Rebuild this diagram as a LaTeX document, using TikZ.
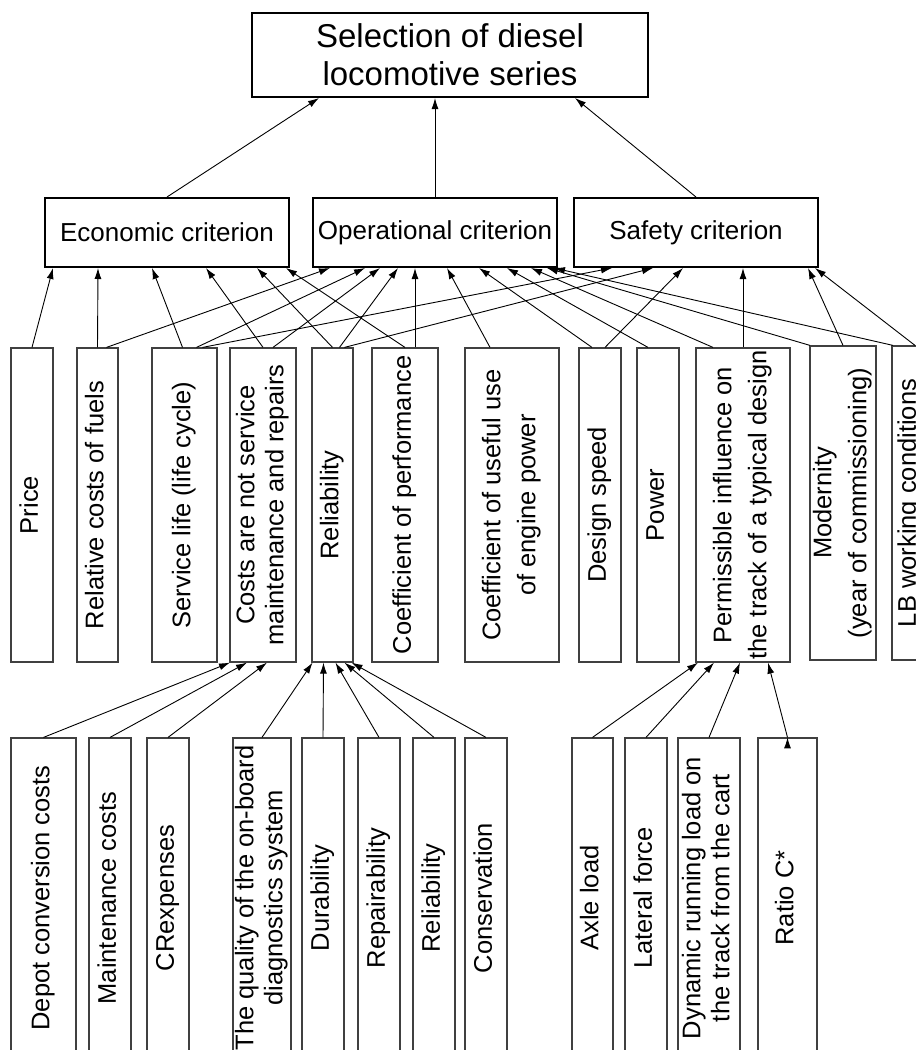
\documentclass[tikz,border=0pt]{standalone}
\usepackage{fontspec}
\setmainfont{Liberation Sans}
\usepackage{graphicx}
\usetikzlibrary{arrows.meta, positioning}

\newcommand{\vtext}[1]{\rotatebox{90}{\begin{tabular}{@{}c@{}}#1\end{tabular}}}

\begin{document}
\begin{tikzpicture}[x=1pt, y=-1pt,
    goal/.style={draw, line width=2pt, inner sep=0pt, align=center, font=\fontsize{33}{38}\selectfont},
    crit/.style={draw, line width=2pt, inner sep=0pt, minimum width=244pt, minimum height=69pt, font=\fontsize{26}{30}\selectfont},
    factor/.style={draw=black!75, line width=1.2pt, inner sep=0pt, minimum height=314pt, font=\fontsize{25.5}{29}\selectfont},
    subfactor/.style={factor, minimum height=320pt},
    link/.style={-{Latex[length=11pt, width=7pt]}, line width=0.9pt}]
        \useasboundingbox (0,0) rectangle (916,1050);
        \fill[white] (0,0) rectangle (916,1050);

        \node[goal, minimum width=396pt, minimum height=84pt] (goal) at (450,55) {Selection of diesel\\locomotive series};

        \node[crit] (econ) at (167,232.5) {Economic criterion};
        \node[crit] (oper) at (435,232.5) {Operational criterion};
        \node[crit] (safe) at (696,232.5) {Safety criterion};

        \node[factor, minimum width=42pt] (price)    at (32,505)    {\vtext{Price}};
        \node[factor, minimum width=41pt] (relcost)  at (97.5,505)  {\vtext{Relative costs of fuels}};
        \node[factor, minimum width=65pt] (service)  at (184.5,505) {\vtext{Service life (life cycle)}};
        \node[factor, minimum width=66pt] (costs)    at (263,505)   {\vtext{Costs are not service\\maintenance and repairs}};
        \node[factor, minimum width=41pt] (reliab)   at (332.5,505) {\vtext{Reliability}};
        \node[factor, minimum width=66pt] (coefperf) at (405,505)   {\vtext{Coefficient of performance}};
        \node[factor, minimum width=94pt] (coefuse)  at (512,505)   {\vtext{Coefficient of useful use\\[6pt]of engine power}};
        \node[factor, minimum width=42pt] (dspeed)   at (600,505)   {\vtext{Design speed}};
        \node[factor, minimum width=42pt] (power)    at (658,505)   {\vtext{Power}};
        \node[factor, minimum width=94pt] (permis)   at (743,505)   {\vtext{Permissible influence on\\[6pt]the track of a typical design}};
        \node[factor, minimum width=66pt] (modern)   at (843,503)   {\vtext{Modernity\\[6pt](year of commissioning)}};
        \node[factor, minimum width=36pt] (lbwork)   at (910,503)   {\vtext{LB working conditions}};

        \node[subfactor, minimum width=65pt] (depot)   at (43.5,898) {\vtext{Depot conversion costs}};
        \node[subfactor, minimum width=42pt] (maint)   at (110,898)  {\vtext{Maintenance costs}};
        \node[subfactor, minimum width=42pt] (crexp)   at (168,898)  {\vtext{CRexpenses}};
        \node[subfactor, minimum width=58pt] (quality) at (262,898)  {\vtext{The quality of the on-board\\diagnostics system}};
        \node[subfactor, minimum width=42pt] (durab)   at (323,898)  {\vtext{Durability}};
        \node[subfactor, minimum width=42pt] (repair)  at (379,898)  {\vtext{Repairability}};
        \node[subfactor, minimum width=42pt] (relsub)  at (434,898)  {\vtext{Reliability}};
        \node[subfactor, minimum width=42pt] (conserv) at (486,898)  {\vtext{Conservation}};
        \node[subfactor, minimum width=41pt] (axle)    at (592.5,898) {\vtext{Axle load}};
        \node[subfactor, minimum width=42pt] (lateral) at (646,898)  {\vtext{Lateral force}};
        \node[subfactor, minimum width=62pt] (dynamic) at (709,898)  {\vtext{Dynamic running load on\\the track from the cart}};
        \node[subfactor, minimum width=59pt] (ratio)   at (787.5,898) {\vtext{Ratio C*}};

        \draw[link]
            (econ.north) edge ([xshift=-131pt]goal.south)
            (oper.north) edge ([xshift=-15pt]goal.south)
            (safe.north) edge ([xshift=125pt]goal.south)
            (price.north) edge ([xshift=-114pt]econ.south)
            (relcost.north) edge ([xshift=-69pt]econ.south)
            ([xshift=9pt]relcost.north) edge ([xshift=-105pt]oper.south)
            ([xshift=-2pt]service.north) edge ([xshift=-15pt]econ.south)
            ([xshift=12pt]service.north) edge ([xshift=-70pt]oper.south)
            ([xshift=18pt]service.north) edge ([xshift=-84pt]safe.south)
            (costs.north) edge ([xshift=39pt]econ.south)
            ([xshift=10pt]costs.north) edge ([xshift=-55pt]oper.south)
            (reliab.north) edge ([xshift=90pt]econ.south)
            ([xshift=7pt]reliab.north) edge ([xshift=-37pt]oper.south)
            ([xshift=12pt]reliab.north) edge ([xshift=-43pt]safe.south)
            (coefperf.north) edge ([xshift=119pt]econ.south)
            ([xshift=10pt]coefperf.north) edge ([xshift=-20pt]oper.south)
            ([xshift=-22pt]coefuse.north) edge ([xshift=12pt]oper.south)
            ([xshift=-8pt]dspeed.north) edge ([xshift=44pt]oper.south)
            ([xshift=5pt]dspeed.north) edge ([xshift=-13pt]safe.south)
            ([xshift=-10pt]power.north) edge ([xshift=72pt]oper.south)
            ([xshift=-30pt]permis.north) edge ([xshift=96pt]oper.south)
            (permis.north) edge ([xshift=47pt]safe.south)
            ([xshift=-33pt]modern.north) edge ([xshift=112pt]oper.south)
            (modern.north) edge ([xshift=112pt]safe.south)
            ([xshift=-17pt]lbwork.north) edge ([xshift=119pt]oper.south)
            ([xshift=5pt]lbwork.north) edge ([xshift=119pt]safe.south)
            (depot.north) edge ([xshift=-33pt]costs.south)
            (maint.north) edge ([xshift=-16pt]costs.south)
            (crexp.north) edge ([xshift=4pt]costs.south)
            (quality.north) edge ([xshift=-20pt]reliab.south)
            (durab.north) edge ([xshift=-9pt]reliab.south)
            (repair.north) edge ([xshift=3pt]reliab.south)
            (relsub.north) edge ([xshift=12pt]reliab.south)
            (conserv.north) edge ([xshift=19pt]reliab.south)
            (axle.north) edge ([xshift=-45pt]permis.south)
            (lateral.north) edge ([xshift=-29pt]permis.south)
            (dynamic.north) edge ([xshift=-3pt]permis.south)
            (ratio.north) edge ([xshift=25pt]permis.south)
            ;
\end{tikzpicture}
\end{document}
